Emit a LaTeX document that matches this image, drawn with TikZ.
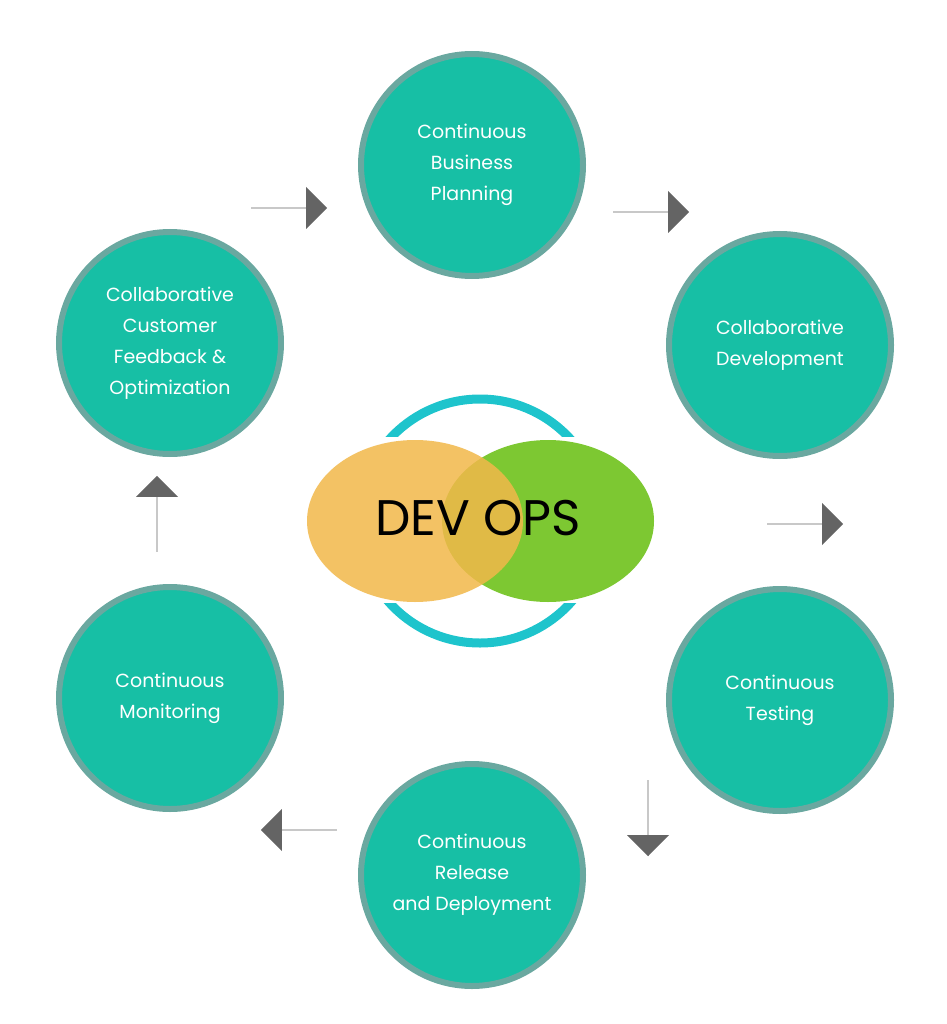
\documentclass[tikz,border=0pt]{standalone}
\usepackage{fontspec}
\setmainfont{Poppins}
\usetikzlibrary{shapes.arrows}
\definecolor{teal1}{HTML}{17BFA5}
\definecolor{rim}{HTML}{6AA8A0}
\definecolor{ring}{HTML}{1EC4CC}
\definecolor{orng}{HTML}{F2B84A}
\definecolor{grn}{HTML}{7DC832}
\definecolor{arr}{HTML}{646464}
\tikzset{
  stage/.style={circle,fill=teal1,draw=rim,line width=6pt,minimum size=222pt,inner sep=0pt,
    text=white,align=center,font=\fontsize{19}{31}\selectfont},
  blk/.style={single arrow,fill=arr,minimum height=76pt,minimum width=42pt,
    single arrow head extend=9pt,single arrow head indent=0pt,inner sep=0pt,shape border rotate=#1}
}
\begin{document}
\begin{tikzpicture}[x=1pt,y=-1pt]
\useasboundingbox (0,0) rectangle (946,1024);
\node[stage] (a) at (472,165) {Continuous\\Business\\Planning};
\node[stage] (b) at (780,345) {Collaborative\\Development};
\node[stage] (c) at (780,700) {Continuous\\Testing};
\node[stage] (d) at (472,875) {Continuous\\Release\\and Deployment};
\node[stage] (e) at (170,698) {Continuous\\Monitoring};
\node[stage] (f) at (170,343) {Collaborative\\Customer\\Feedback \&\\Optimization};
\draw[ring,line width=9pt] (480,521) circle (122);
\fill[white] (300,437) rectangle (660,603);
\fill[grn] (548,521) ellipse (106 and 81);
\fill[orng,opacity=0.85] (415,521) ellipse (108 and 81);
\node[font=\fontsize{50}{50}\selectfont] (t) at (478,518) {DEV OPS};
\node[blk=35] (a1) at (289,208) {};
\node[blk=-28] (a2) at (651,212) {};
\node[blk=-90] (a3) at (805,524) {};
\node[blk=-150] (a4) at (648,818) {};
\node[blk=150] (a5) at (299,830) {};
\node[blk=90] (a6) at (157,514) {};
\end{tikzpicture}
\end{document}
